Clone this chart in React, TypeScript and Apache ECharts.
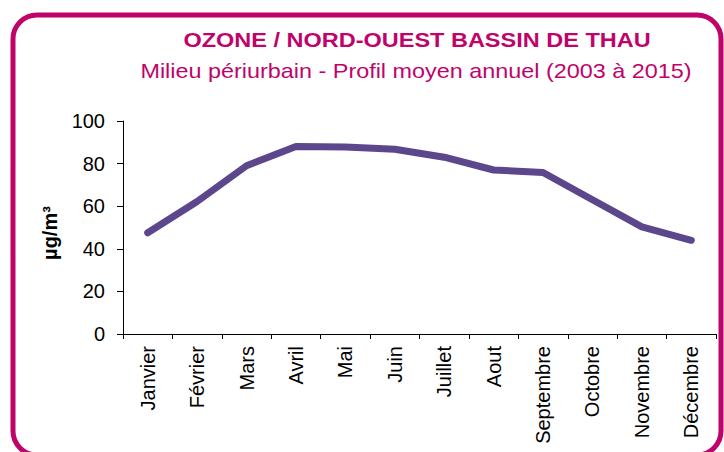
import React, { useEffect, useRef } from "react";
import * as echarts from "echarts";

const months = ["Janvier", "Février", "Mars", "Avril", "Mai", "Juin", "Juillet", "Aout", "Septembre", "Octobre", "Novembre", "Décembre"];
const ozone = [47.5, 62.2, 79, 88, 87.8, 86.7, 83, 77, 75.8, 63, 50.3, 44];
const titleText = "OZONE / NORD-OUEST BASSIN DE THAU";
const subtitleText = "Milieu périurbain - Profil moyen annuel (2003 à 2015)";
const unitText = "µg/m³";

const FONT = "'Liberation Sans', Arial, sans-serif";
const MAGENTA = "#c0036b";
const PURPLE = "#5c468c";

export default function App() {
  const ref = useRef<HTMLDivElement>(null);
  useEffect(() => {
    if (!ref.current) return;
    const chart = echarts.init(ref.current, undefined, { renderer: "svg" });
    chart.setOption({
      animation: false,
      backgroundColor: "#ffffff",
      grid: { left: 123, right: 8, top: 121, bottom: 118, containLabel: false },
      xAxis: {
        type: "category",
        data: months,
        boundaryGap: true,
        axisLine: { show: true, lineStyle: { color: "#000", width: 1 } },
        axisTick: { show: true, length: 5, lineStyle: { color: "#000" } },
        axisLabel: { rotate: 90, fontSize: 20, color: "#000", fontFamily: FONT, margin: 12, interval: 0 },
        splitLine: { show: false },
      },
      yAxis: {
        type: "value",
        min: 0,
        max: 100,
        interval: 20,
        axisLine: { show: true, lineStyle: { color: "#000", width: 1 } },
        axisTick: { show: true, length: 6, lineStyle: { color: "#000" } },
        axisLabel: { fontSize: 20, color: "#000", fontFamily: FONT, margin: 18 },
        splitLine: { show: false },
      },
      series: [
        {
          type: "line",
          data: ozone,
          symbol: "none",
          lineStyle: { color: PURPLE, width: 7, cap: "round", join: "round" },
        },
      ],
      graphic: [
        {
          type: "rect",
          shape: { x: 13, y: 15, width: 708, height: 440, r: 24 },
          style: { fill: "none", stroke: MAGENTA, lineWidth: 5 },
          z: 10,
        },
        {
          type: "text",
          x: 417,
          y: 40,
          scaleX: 1.175,
          style: { text: titleText, x: 0, y: 0, align: "center", verticalAlign: "middle", fill: MAGENTA, font: `bold 20px ${FONT}` },
        },
        {
          type: "text",
          x: 416,
          y: 71,
          scaleX: 1.17,
          style: { text: subtitleText, x: 0, y: 0, align: "center", verticalAlign: "middle", fill: MAGENTA, font: `20px ${FONT}` },
        },
        {
          type: "text",
          x: 50,
          y: 233,
          rotation: Math.PI / 2,
          style: { text: unitText, x: 0, y: 0, align: "center", verticalAlign: "middle", fill: "#000", font: `bold 20px ${FONT}` },
        },
      ],
    });
    return () => chart.dispose();
  }, []);
  return <div ref={ref} style={{ position: "fixed", left: 0, top: 0, width: 724, height: 452 }} />;
}
